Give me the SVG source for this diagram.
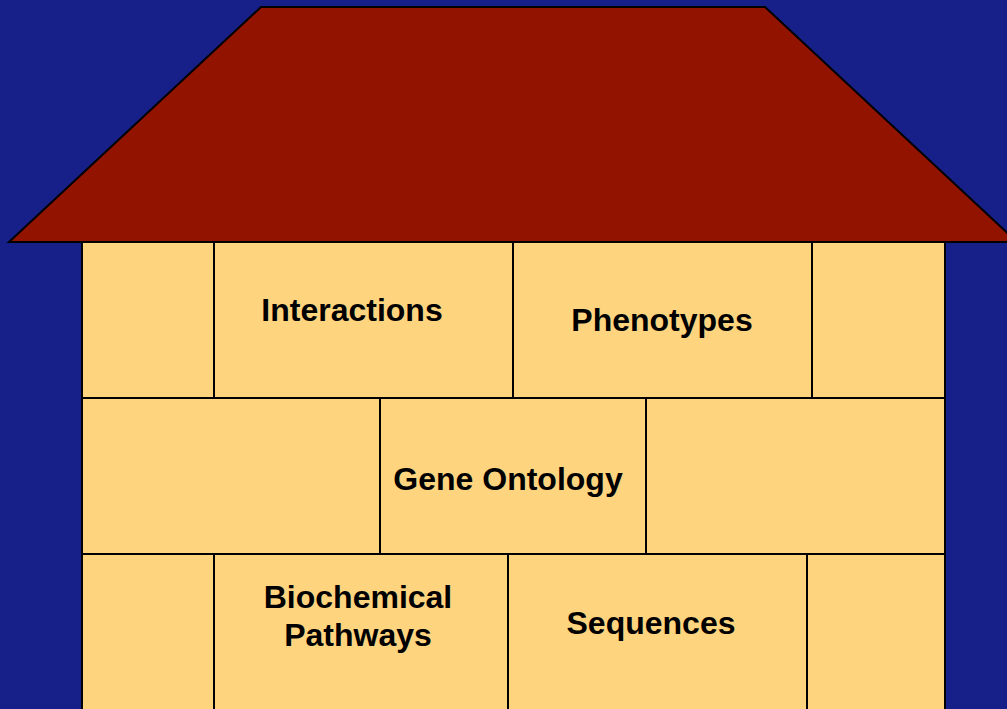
<svg xmlns="http://www.w3.org/2000/svg" width="1007" height="709" viewBox="0 0 1007 709">
<style>
.brick{fill:#FED47F;stroke:#000;stroke-width:2}
.lbl{font-family:"Liberation Sans",Arial,sans-serif;font-weight:bold;font-size:32px;fill:#000;text-anchor:middle}
</style>
<rect width="1007" height="709" fill="#172089"/>
<g id="roof"><polygon points="261,7 765,7 1017,242 9,242" fill="#921400" stroke="#000" stroke-width="2"/></g>
<g id="wall">
<g id="row1">
<rect class="brick" x="82" y="242" width="132" height="156"/>
<rect class="brick" x="214" y="242" width="299" height="156"/>
<rect class="brick" x="513" y="242" width="299" height="156"/>
<rect class="brick" x="812" y="242" width="133" height="156"/>
</g>
<g id="row2">
<rect class="brick" x="82" y="398" width="298" height="156"/>
<rect class="brick" x="380" y="398" width="266" height="156"/>
<rect class="brick" x="646" y="398" width="299" height="156"/>
</g>
<g id="row3">
<rect class="brick" x="82" y="554" width="132" height="160"/>
<rect class="brick" x="214" y="554" width="294" height="160"/>
<rect class="brick" x="508" y="554" width="299" height="160"/>
<rect class="brick" x="807" y="554" width="138" height="160"/>
</g>
</g>
<g id="interactions"><text class="lbl" x="352" y="321">Interactions</text></g>
<g id="phenotypes"><text class="lbl" x="662" y="331">Phenotypes</text></g>
<g id="gene-ontology"><text class="lbl" x="508" y="490">Gene Ontology</text></g>
<g id="biochemical-pathways"><text class="lbl" x="358" y="608">Biochemical</text><text class="lbl" x="358" y="646">Pathways</text></g>
<g id="sequences"><text class="lbl" x="651" y="634">Sequences</text></g>
<g id="connectors"/>
</svg>
